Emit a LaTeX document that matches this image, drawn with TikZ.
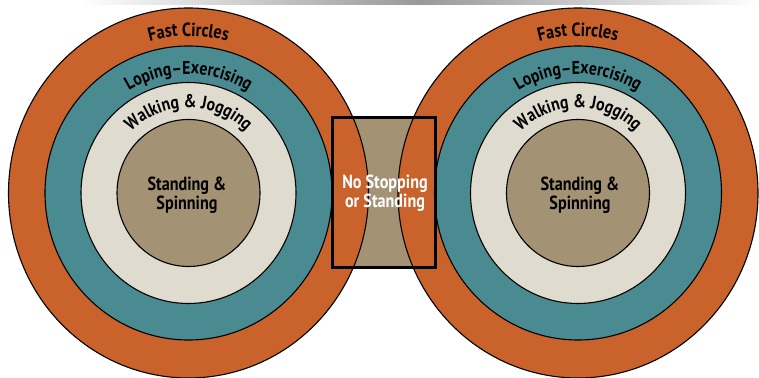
\documentclass[tikz,border=0pt]{standalone}
\usepackage{fontspec}
\newfontfamily\dfont[FakeStretch=0.85]{PT Sans}
\usetikzlibrary{decorations.text}
\definecolor{cOrange}{RGB}{202,98,44}
\definecolor{cTeal}{RGB}{74,138,145}
\definecolor{cCream}{RGB}{224,219,207}
\definecolor{cTan}{RGB}{163,146,116}
\tikzset{
  ring/.style={draw=black, line width=1.1pt},
  zonebox/.style={draw=none, fill=cTan, minimum width=102pt, minimum height=149pt, inner sep=0pt},
  centerlabel/.style={align=center, font=\dfont\bfseries\fontsize{19}{16}\selectfont, text=black},
  zonelabel/.style={align=center, font=\dfont\bfseries\fontsize{19}{17}\selectfont, text=white},
  arclabel/.style={decorate, decoration={text along path, text align=center, text color=black}}
}
\begin{document}
\begin{tikzpicture}[x=1pt,y=1pt]
\useasboundingbox (0,0) rectangle (759,377);
\fill[white] (0,0) rectangle (759,377);
\shade[left color=white, right color=white, middle color=black!40] (80,372) rectangle (759,376);
\node (zone) [zonebox] at (384,184.5) {};
\foreach \cx in {188.5,578} {
  \filldraw[ring, fill=cOrange] (\cx,184) ellipse[x radius=180, y radius=185];
  \filldraw[ring, fill=cTeal] (\cx,184) ellipse[x radius=143.5, y radius=147];
  \filldraw[ring, fill=cCream] (\cx,184) ellipse[x radius=107.5, y radius=110.5];
  \filldraw[ring, fill=cTan] (\cx,184) ellipse[x radius=71.5, y radius=73.5];
  \path[arclabel, decoration={text={|\dfont\bfseries\fontsize{19}{19}\selectfont|Fast Circles}}]
    (\cx,184) ++(135:153 and 157) arc[start angle=135, end angle=45, x radius=153, y radius=157];
  \path[arclabel, decoration={text={|\dfont\bfseries\fontsize{18.5}{18.5}\selectfont|Loping–Exercising}}]
    (\cx,184) ++(155:116 and 119) arc[start angle=155, end angle=25, x radius=116, y radius=119];
  \path[arclabel, decoration={text={|\dfont\bfseries\fontsize{18.5}{18.5}\selectfont|Walking {\&} Jogging}}]
    (\cx,184) ++(170:83 and 85) arc[start angle=170, end angle=10, x radius=83, y radius=85];
}
\node (standL) [centerlabel] at (187,182) {Standing \&\\Spinning};
\node (standR) [centerlabel] at (580,182) {Standing \&\\Spinning};
\draw[line width=3pt] (zone.south west) rectangle (zone.north east);
\node (zonetext) [zonelabel] at (385,184) {No Stopping\\or Standing};
\end{tikzpicture}
\end{document}
